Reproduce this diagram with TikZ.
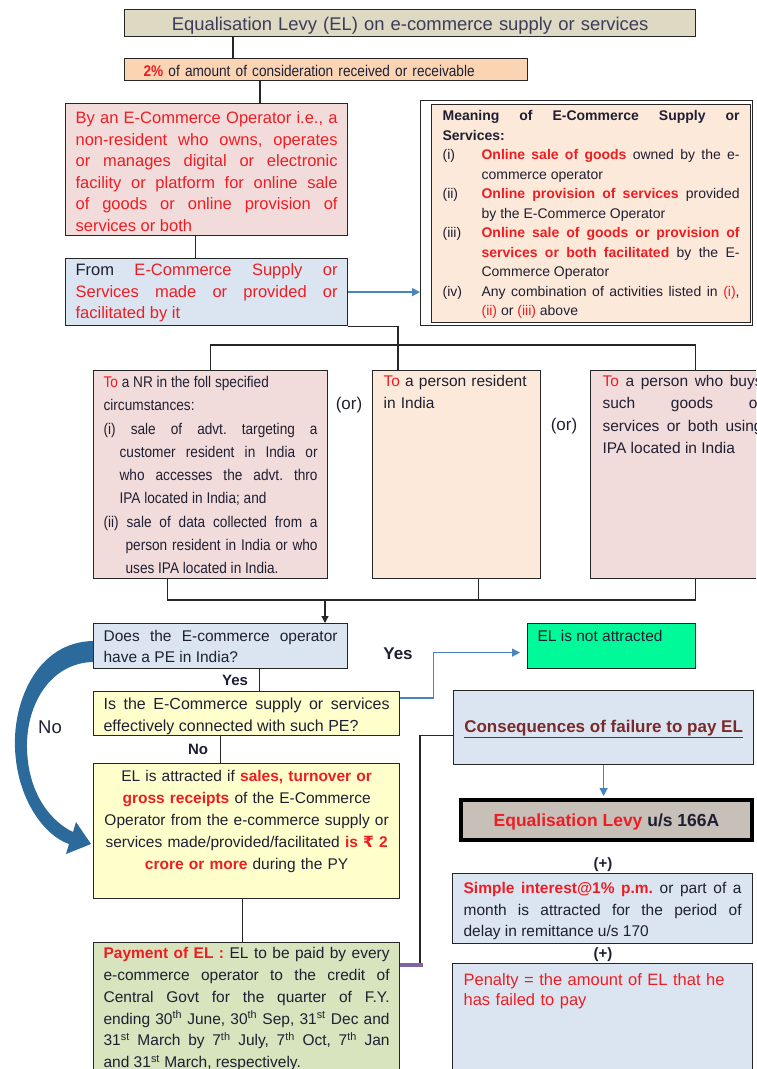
\documentclass[tikz,border=0pt]{standalone}
\usepackage{fontspec}
\setmainfont{Liberation Sans}
\newfontfamily\narrowsf[FakeStretch=0.88]{Liberation Sans}
\newfontfamily\rupeesf{DejaVu Sans}
\usetikzlibrary{arrows.meta,positioning,calc}
\frenchspacing
\definecolor{ptan}{HTML}{DDD9C3}
\definecolor{ppeach}{HTML}{FBD4B4}
\definecolor{ppink}{HTML}{F2DCDB}
\definecolor{pblue}{HTML}{DBE5F1}
\definecolor{pcream}{HTML}{FDE9D9}
\definecolor{pyellow}{HTML}{FFFFCC}
\definecolor{pgreen}{HTML}{D7E4BD}
\definecolor{pmint}{HTML}{00FA9A}
\definecolor{pstone}{HTML}{C6C0B9}
\definecolor{elred}{HTML}{EE1D23}
\definecolor{inkd}{HTML}{1F1F33}
\definecolor{ttlink}{HTML}{3C3C5A}
\definecolor{consred}{HTML}{7A2A2A}
\definecolor{arrblue}{HTML}{4A84C0}
\definecolor{deepblue}{HTML}{2C6A9C}
\definecolor{ppurple}{HTML}{8064A2}
\definecolor{linek}{HTML}{262626}
\newcommand{\fs}[2]{\fontsize{#1}{#2}\selectfont}
\newcommand{\rd}[1]{\textcolor{elred}{#1}}
\newcommand{\rdb}[1]{\textcolor{elred}{\bfseries #1}}
% label + hanging text, as in a numbered list
\newcommand{\mitem}[2]{\par\noindent\hangindent=39pt\hangafter=1\makebox[39pt][l]{#1}#2}
\tikzset{
  % box at its top-left corner; text height/depth fix where the text sits
  box/.style  = {rectangle, draw=linek, line width=1.2pt, fill=#1, anchor=north west,
                 inner xsep=10pt, inner ysep=4pt, text height=13pt, align=justify,
                 text=inkd, font=\fs{15.5}{21.7}},
  box/.default = white,
  link/.style = {draw=linek, line width=1.2pt},
  arr/.style  = {link, -{Triangle[length=7pt,width=7pt]}},
  barr/.style = {draw=arrblue, line width=1.4pt, -{Triangle[length=8pt,width=8pt]}},
  tag/.style  = {font=\bfseries\fs{15}{18}, text=inkd, inner sep=0pt},
}
\begin{document}
\begin{tikzpicture}[x=1pt,y=-1pt]
\useasboundingbox (0,0) rectangle (756,1069);
\clip (0,0) rectangle (756,1069);

% top of the chart
\node[box=ptan, align=center, text width=551pt, text height=17pt, text depth=2pt,
      text=ttlink, font=\fs{18.4}{20}] (title) at (124,9)
      {Equalisation Levy (EL) on e-commerce supply or services};
\node[box=ppeach, align=left, inner xsep=19pt, text width=365pt, text height=14pt,
      text depth=0pt, font=\narrowsf\fs{15.5}{18}] (pct) at (124,58)
      {\rdb{2\%} of amount of consideration received or receivable};
\node[box=ppink, text width=262pt, text height=16pt, text depth=108pt, text=elred,
      font=\fs{16.5}{21.5}] (op) at (65,103)
      {By an E-Commerce Operator i.e., a\linebreak non-resident who owns, operates\linebreak
       or manages digital or electronic\linebreak facility or platform for online sale\linebreak
       of goods or online provision of\linebreak services or both};
\node[box=pblue, text width=262pt, text height=13pt, text depth=46pt,
      font=\fs{16.5}{21.5}] (from) at (65,258)
      {From \rd{E-Commerce Supply or\linebreak Services made or provided or\linebreak
       facilitated by it}};

% meaning, in its frame
\node[draw=linek, line width=1.2pt, fill=white, anchor=north west, inner sep=0pt,
      minimum width=332pt, minimum height=225pt] (mframe) at (420,100) {};
\node[box=pcream, text width=297pt, inner xsep=11pt, text height=12pt, text depth=198pt,
      font=\fs{14}{19.5}] (mean) at (431,104)
      {{\bfseries Meaning of E-Commerce Supply or\linebreak Services:}
       \mitem{(i)}{\rdb{Online sale of goods} owned by the e-\linebreak commerce operator}
       \mitem{(ii)}{\rdb{Online provision of services} provided\linebreak by the E-Commerce Operator}
       \mitem{(iii)}{\rdb{Online sale of goods or provision of\linebreak services or both facilitated}
                     by the E-\linebreak Commerce Operator}
       \mitem{(iv)}{Any combination of activities listed in \rd{(i)},\linebreak
                    \rd{(ii)} or \rd{(iii)} above}\par};

% the three recipients
\node[box=ppink, text width=214pt, text height=13pt, text depth=187pt,
      font=\narrowsf\fs{15.5}{23.25}] (nr) at (93,370)
      {\rd{To} a NR in the foll specified\\ circumstances:\par
       \noindent\hangindent=16pt\hangafter=1 (i) sale of advt. targeting a\linebreak
       customer resident in India or\linebreak who accesses the advt. thro\linebreak
       IPA located in India; and\par
       \noindent\hangindent=22pt\hangafter=1 (ii) sale of data collected from a\linebreak
       person resident in India or who\linebreak uses IPA located in India.\par};
\node[box=pcream, align=left, text width=146pt, inner xsep=11pt, text height=12pt,
      text depth=188pt, font=\fs{15.5}{22}] (res) at (372,370)
      {\rd{To} a person resident\\ in India};
\node[box=ppink, text width=160pt, inner xsep=12pt, text height=12pt, text depth=188pt,
      font=\fs{15.5}{22.3}] (buyer) at (590,370)
      {\rd{To} a person who buys\linebreak such goods or\linebreak
       services or both using\linebreak IPA located in India};
\node[font=\fs{17}{20}, text=inkd, inner sep=0pt] (or1) at (349,405) {(or)};
\node[font=\fs{17}{20}, text=inkd, inner sep=0pt] (or2) at (564,426) {(or)};

% tests
\node[box=pblue, text width=234pt, text height=14pt, text depth=23pt,
      font=\fs{15.5}{21}] (does) at (93,623)
      {Does the E-commerce operator\linebreak have a PE in India?};
\node[box=pyellow, text width=286pt, text height=14pt, text depth=22pt,
      font=\fs{16}{22}] (is) at (93,691)
      {Is the E-Commerce supply or services\linebreak effectively connected with such PE?};
\node[box=pyellow, align=center, text width=286pt, text height=14pt, text depth=113pt,
      font=\fs{15.5}{22}] (att) at (93,763)
      {EL is attracted if \rdb{sales, turnover or}\\ \rdb{gross receipts} of the E-Commerce\\
       Operator from the e-commerce supply or\\
       services made/provided/facilitated \rdb{is {\rupeesf ₹} 2}\\
       \rdb{crore or more} during the PY};
\node[box=pgreen, text width=286pt, text height=12pt, text depth=123pt,
      font=\fs{15.5}{21.8}] (pay) at (93,942)
      {\rdb{Payment of EL :} EL to be paid by every\linebreak
       e-commerce operator to the credit of\linebreak
       Central Govt for the quarter of F.Y.\linebreak
       ending 30\textsuperscript{th} June, 30\textsuperscript{th} Sep,
       31\textsuperscript{st} Dec and\linebreak
       31\textsuperscript{st} March by 7\textsuperscript{th} July, 7\textsuperscript{th} Oct,
       7\textsuperscript{th} Jan\linebreak
       and 31\textsuperscript{st} March, respectively.};
\node[box=pmint, text width=148pt, text height=14pt, text depth=23pt,
      font=\fs{15.5}{20}] (na) at (527,623) {EL is not attracted};

% consequences column
\node[box=pblue, align=center, minimum width=300pt, minimum height=74pt, inner sep=0pt,
      text height=12pt, text depth=3pt, text=consred, font=\bfseries\fs{17}{20}] (cons)
      at (453,690) {\underline{Consequences of failure to pay EL}};
\node[box=pstone, draw=black, line width=4pt, align=center, minimum width=291pt,
      minimum height=40pt, inner sep=0pt, text height=13pt, text depth=1pt,
      font=\bfseries\fs{17.5}{20}] (el166) at (459,798)
      {\rd{Equalisation Levy} u/s 166A};
\node[box=pblue, text width=278pt, inner xsep=11pt, text height=16pt, text depth=46pt,
      font=\fs{15.5}{21.5}] (simp) at (452,873)
      {\rdb{Simple interest@1\% p.m.} or part of a\linebreak
       month is attracted for the period of\linebreak delay in remittance u/s 170};
\node[box=pblue, align=left, text width=278pt, inner xsep=11pt, text height=18pt,
      text depth=96pt, text=elred, font=\fs{16.5}{20}] (pen) at (452,963)
      {Penalty = the amount of EL that he\\ has failed to pay};
\node[tag] (plus1) at (603,865) {(+)};
\node[tag] (plus2) at (603,955) {(+)};

% connectors
\draw[link] ([xshift=109pt]title.south west) -- ([xshift=109pt]pct.north west);
\draw[link] ([xshift=136pt]pct.south west) -- ([xshift=136pt]pct.south west |- op.north);
\draw[link] ([xshift=-11pt]op.south) -- ([xshift=-11pt]op.south |- from.north);
\draw[barr] (from.east) -- (from.east -| mframe.west);

\coordinate (hub) at (398,345);
\draw[link] (from.south east) -| (hub);
\draw[link] (nr.north) |- (hub) -| ([xshift=13pt]buyer.north);
\draw[link] (hub) -- (hub |- res.north);

\coordinate (merge) at (325,600);
\draw[link] ([xshift=-43pt]nr.south) |- (merge) -| ([xshift=13pt]buyer.south);
\draw[link] ([xshift=22pt]res.south) -- ([xshift=22pt]res.south |- merge);
\draw[arr] (merge) -- (merge |- does.north);

\draw[link] ([xshift=39pt]does.south) -- ([xshift=39pt]does.south |- is.north)
      node[tag, midway, left=11pt] (yes1) {Yes};
\draw[link] ([xshift=-26pt]is.south) -- ([xshift=-26pt]is.south |- att.north)
      node[tag, midway, left=12pt] (no1) {No};
\draw[link] ([xshift=-4pt]att.south) -- ([xshift=-4pt]att.south |- pay.north);
\draw[barr, shorten >=7pt] ([yshift=-7pt]is.north east) -- ++(33,0)
      |- ([yshift=-6.5pt]na.west);
\node[tag, font=\bfseries\fs{17}{20}] (yes2) at (398,654) {Yes};

% big curved "No" arrow
\fill[deepblue] (93,641) .. controls (38,642) and (13,700) .. (15,748)
      .. controls (17,800) and (45,836) .. (69,844) -- (66,854) -- (91,844) -- (76,822)
      -- (73,832) .. controls (52,822) and (28,795) .. (27,748)
      .. controls (26,705) and (50,663) .. (93,662) -- cycle;
\node[tag, font=\fs{18.5}{20}] (no2) at (50,727) {No};

\draw[barr, shorten >=2pt] (cons.south) -- (cons.south |- el166.north);
\coordinate (tee) at (420,965);
\draw[link] ([yshift=-8pt]cons.west) -| (tee);
\draw[ppurple, line width=4pt] (pay.east |- tee) -- ([xshift=3pt]tee);
\end{tikzpicture}
\end{document}
